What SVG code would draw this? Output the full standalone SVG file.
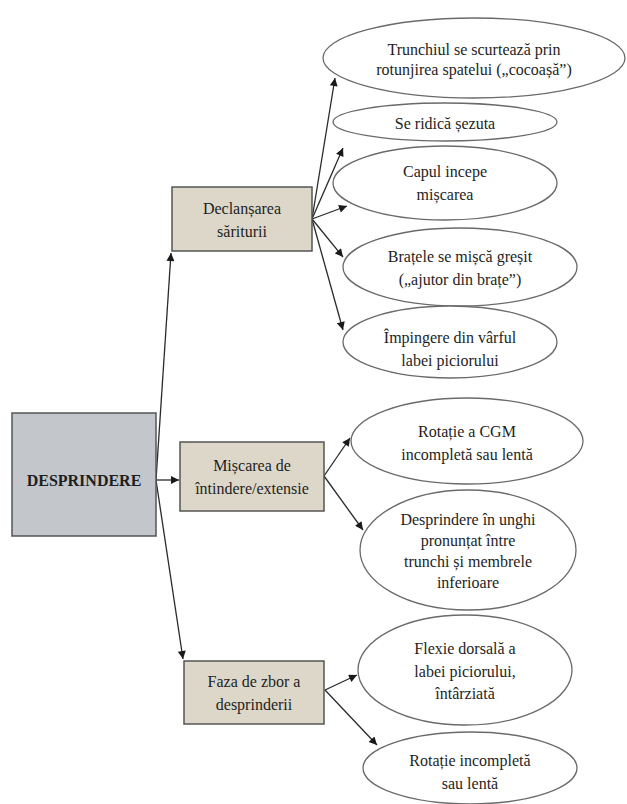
<svg xmlns="http://www.w3.org/2000/svg" width="627" height="804" viewBox="0 0 627 804" font-family="'Liberation Serif', 'DejaVu Serif', serif">
<defs>
<marker id="ah" viewBox="0 0 10 10" refX="10" refY="5" markerWidth="9" markerHeight="8" markerUnits="userSpaceOnUse" orient="auto">
<path d="M0,0 L10,5 L0,10 z" fill="#1a1a1a"/>
</marker>
</defs>
<style>
text{font-family:'Liberation Serif','DejaVu Serif',serif;font-size:16px;fill:#1e1e1e;text-anchor:middle;dominant-baseline:central}
.main rect{fill:#c3c7cb;stroke:#555;stroke-width:1.5}
.box rect{fill:#dcd7c9;stroke:#555;stroke-width:1.5}
.ell ellipse{fill:#fff;stroke:#6a6a6a;stroke-width:1.3}
.b{font-weight:bold}
#connectors line{stroke:#2a2a2a;stroke-width:1.3;marker-end:url(#ah)}
</style>
<rect width="627" height="804" fill="#fff"/>
<g id="connectors">
<line x1="156" y1="480" x2="171" y2="253"/>
<line x1="156" y1="480" x2="179" y2="480"/>
<line x1="156" y1="480" x2="183" y2="659"/>
<line x1="312" y1="219" x2="335" y2="78"/>
<line x1="312" y1="219" x2="343" y2="148"/>
<line x1="312" y1="219" x2="347" y2="206"/>
<line x1="312" y1="219" x2="343" y2="257"/>
<line x1="312" y1="219" x2="343" y2="330"/>
<line x1="324" y1="476" x2="350" y2="438"/>
<line x1="324" y1="476" x2="363" y2="530"/>
<line x1="325" y1="690" x2="357" y2="675"/>
<line x1="325" y1="690" x2="377" y2="745"/>
</g>
<g id="desprindere" class="main"><rect x="12" y="413" width="144" height="123"/><text class="b" x="84" y="480">DESPRINDERE</text></g>
<g id="declansarea" class="box"><rect x="172" y="187" width="140" height="64"/><text x="242" y="208">Declanșarea</text><text x="242" y="231">săriturii</text></g>
<g id="miscarea" class="box"><rect x="180" y="442" width="144" height="69"/><text x="252" y="465">Mișcarea de</text><text x="252" y="488">întindere/extensie</text></g>
<g id="faza" class="box"><rect x="184" y="661" width="140" height="63"/><text x="254" y="681">Faza de zbor a</text><text x="254" y="704">desprinderii</text></g>
<g id="trunchiul" class="ell"><ellipse cx="474" cy="58" rx="151" ry="40"/><text x="474" y="49">Trunchiul se scurtează prin</text><text x="474" y="69">rotunjirea spatelui („cocoașă”)</text></g>
<g id="se-ridica" class="ell"><ellipse cx="445" cy="122" rx="112" ry="19"/><text x="445" y="123">Se ridică șezuta</text></g>
<g id="capul" class="ell"><ellipse cx="445" cy="183" rx="112" ry="37"/><text x="445" y="171">Capul incepe</text><text x="445" y="194">mișcarea</text></g>
<g id="bratele" class="ell"><ellipse cx="460" cy="267" rx="117" ry="39"/><text x="460" y="256">Brațele se mișcă greșit</text><text x="460" y="279">(„ajutor din brațe”)</text></g>
<g id="impingere" class="ell"><ellipse cx="450" cy="342" rx="107" ry="36"/><text x="450" y="337">Împingere din vârful</text><text x="450" y="360">labei piciorului</text></g>
<g id="rotatie-cgm" class="ell"><ellipse cx="467" cy="441" rx="116" ry="43"/><text x="467" y="431">Rotație a CGM</text><text x="467" y="454">incompletă sau lentă</text></g>
<g id="desprindere-unghi" class="ell"><ellipse cx="468" cy="550" rx="108" ry="60"/><text x="468" y="519">Desprindere în unghi</text><text x="468" y="540">pronunțat între</text><text x="468" y="561">trunchi și membrele</text><text x="468" y="582">inferioare</text></g>
<g id="flexie" class="ell"><ellipse cx="465" cy="670" rx="107" ry="55"/><text x="465" y="648">Flexie dorsală a</text><text x="465" y="671">labei piciorului,</text><text x="465" y="693">întârziată</text></g>
<g id="rotatie-incompleta" class="ell"><ellipse cx="470" cy="768" rx="107" ry="36"/><text x="470" y="760">Rotație incompletă</text><text x="470" y="783">sau lentă</text></g>
</svg>
